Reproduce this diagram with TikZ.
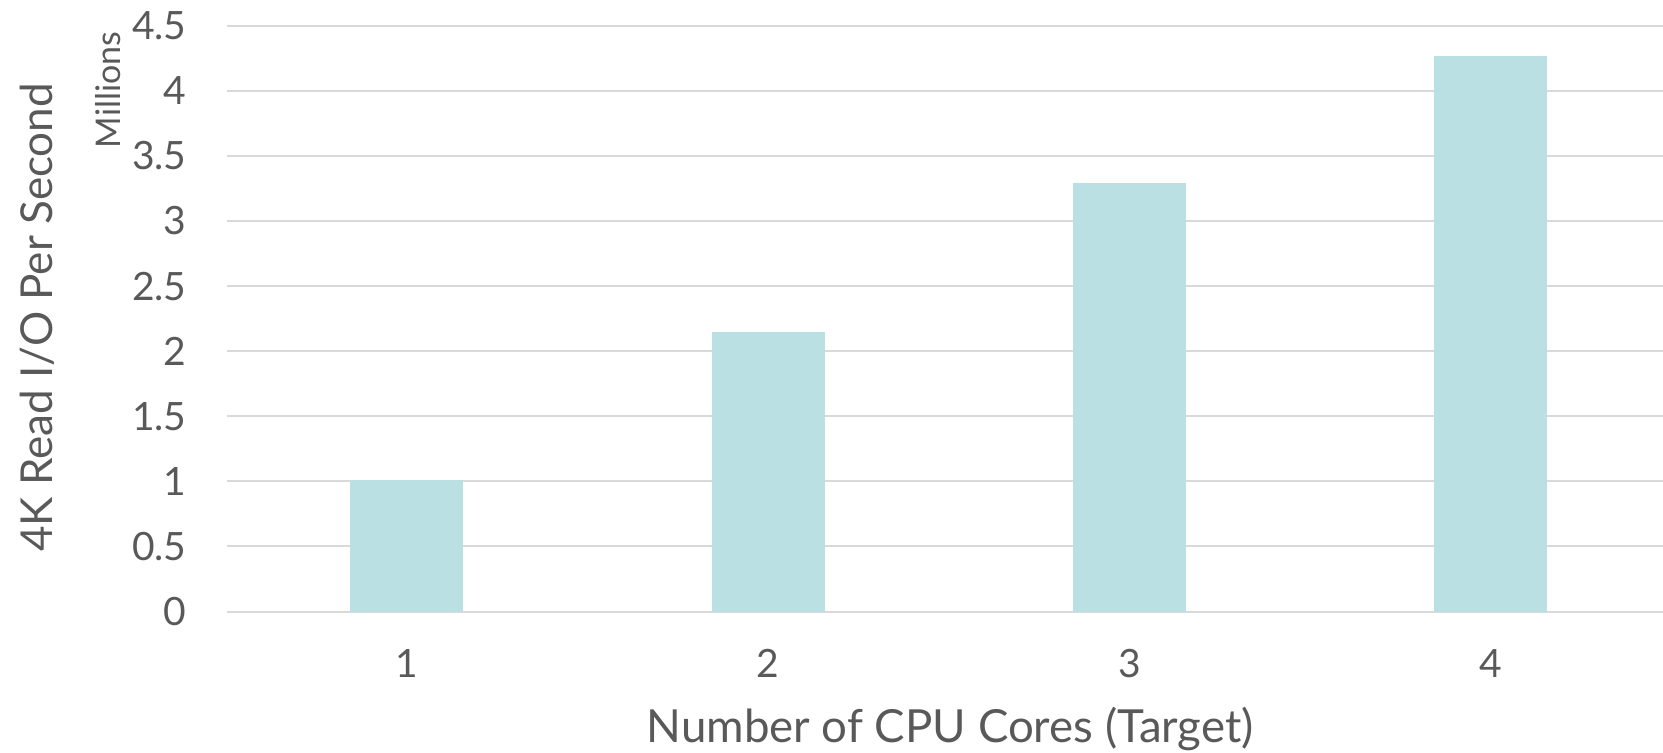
\documentclass[tikz,border=0pt]{standalone}
\usepackage{fontspec}
\setmainfont{Lato}
\definecolor{axistext}{HTML}{595959}
\definecolor{gridgray}{HTML}{D9D9D9}
\definecolor{barfill}{HTML}{BBE0E3}
\begin{document}
\begin{tikzpicture}[x=0.5pt,y=-0.5pt,
  gridline/.style={draw=gridgray,line width=1pt},
  bar/.style={fill=barfill},
  ticklabel/.style={text=axistext,font=\fontsize{19.5}{22}\selectfont,inner sep=0pt},
  axistitle/.style={text=axistext,inner sep=0pt}]
\useasboundingbox (0,0) rectangle (1663,752);
% value scale: zero at y=611.5, 130.2 px per million
\def\yz{611.5}\def\yu{130.2}
% horizontal gridlines and y tick labels
\foreach \v/\lab [count=\i] in {0/0,0.5/0.5,1/1,1.5/1.5,2/2,2.5/2.5,3/3,3.5/3.5,4/4,4.5/4.5}{
  \draw[gridline] (226.7,{\yz-\v*\yu}) -- (1663,{\yz-\v*\yu});
  \node[ticklabel,anchor=base east] (ytick\i) at (187,{\yz-\v*\yu+14}) {\lab};
}
% bars
\foreach \c/\v [count=\i] in {406.7/1.01,768/2.15,1129.5/3.29,1490.5/4.27}{
  \fill[bar] ({\c-56.5},\yz) rectangle ({\c+56.5},{\yz-\v*\yu});
  \node[ticklabel,anchor=base] (xtick\i) at (\c,677) {\i};
}
% axis titles
\node[axistitle,font=\fontsize{22.8}{26}\selectfont,anchor=base] (xtitle) at (950,742) {Number of CPU Cores (Target)};
\node[axistitle,font=\fontsize{22}{26}\selectfont,anchor=base,rotate=90] (ytitle) at (52,317.5) {4K Read I/O Per Second};
\node[axistitle,font=\fontsize{17}{20}\selectfont,anchor=base,rotate=90] (units) at (120,90) {Millions};
\end{tikzpicture}
\end{document}
